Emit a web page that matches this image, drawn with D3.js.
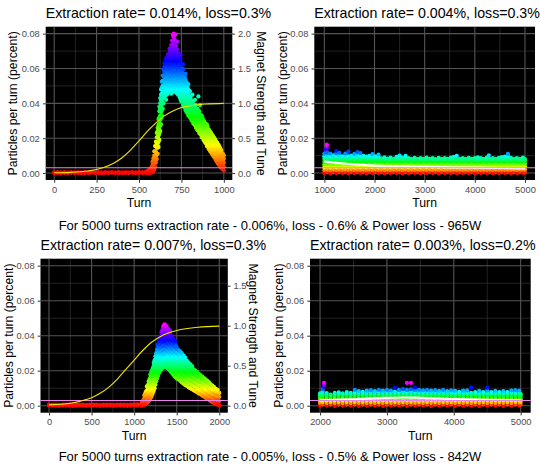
<!DOCTYPE html>
<html>
<head>
<meta charset="utf-8">
<script src="https://cdn.jsdelivr.net/npm/d3@7"></script>
<style>
  body { margin: 0; background: #fff; }
  text { font-family: "Liberation Sans", Arial, Helvetica, sans-serif; }
</style>
</head>
<body>
<div id="main"></div>
<script>
// ---- chart values -------------------------------------------------------

const titles = [
    'Extraction rate= 0.014%, loss=0.3%',
    'Extraction rate= 0.004%, loss=0.3%',
    'Extraction rate= 0.007%, loss=0.3%',
    'Extraction rate= 0.003%, loss=0.2%'
];
const captions = [
    'For 5000 turns extraction rate - 0.006%, loss - 0.6% & Power loss - 965W',
    'For 5000 turns extraction rate - 0.005%, loss - 0.5% & Power loss - 842W'
];

// loss limit drawn as the pink line (percent)
const lossLimit = 0.003;

const yTicks = [0, 0.02, 0.04, 0.06, 0.08];
const xTicksA = [0, 250, 500, 750, 1000];
const xTicksB = [1000, 2000, 3000, 4000, 5000];
const xTicksC = [0, 500, 1000, 1500, 2000];
const xTicksD = [2000, 3000, 4000, 5000];
const tuneTicksA = [0, 0.5, 1, 1.5, 2];
const tuneTicksC = [0, 0.5, 1, 1.5];

// magnet strength ramp (yellow line): [turn, strength]
const tuneA = [[0,0.003],[100,0.01],[200,0.03],[250,0.05],[300,0.085],[350,0.14],[400,0.22],[450,0.33],[500,0.46],
    [550,0.6],[600,0.72],[650,0.82],[700,0.89],[750,0.94],[800,0.965],[850,0.98],[900,0.99],[1000,1.0]];
const tuneC = [[0,0.01],[250,0.03],[400,0.065],[500,0.1],[600,0.155],[700,0.23],[800,0.33],[900,0.45],[1000,0.57],
    [1100,0.69],[1200,0.79],[1300,0.86],[1400,0.91],[1500,0.94],[1750,0.98],[2000,0.995]];

// smoothed particles per turn (white line): [turn, value x 1000]
const smoothB = [[1000,6.5],[1250,5.8],[1500,5.2],[1750,4.7],[2000,4.3],[2500,3.8],[3000,3.5],[3500,3.3],[4000,3.1],[4500,2.9],[5000,2.7]];
const smoothD = [[2000,3.0],[2500,3.6],[3000,4.5],[3250,4.7],[3500,4.5],[4000,3.8],[4500,3.3],[5000,3.1]];

// particles per turn, one row per turn: [turn, values...], values x 1000 (percent)
const lossA = [
    [0,0,0.4],[20,0,0.5],[40,-0.1,0.4],[60,0,0.5],[80,0,0.4],[100,0.1,0.5],[120,0,0.4],[140,0,0.5],[160,-0.1,0.4],
    [180,0,0.5],[200,0,0.4],[220,0.1,0.5],[240,0,0.4],[260,0,0.5],[280,-0.1,0.4],[300,0,0.5],[320,0,0.4],[340,0.1,0.5],
    [360,0,0.4],[380,0,0.5],[400,-0.1,0.4],[420,0,0.5],[440,0,0.4],[460,0.1,0.5],[480,0,0.4],[500,0,0.6],[520,0,0.5],
    [540,0,0.7],[550,0,0.6,1.3],[560,0,0.8,1.8],[570,0.2,1.3,2.6],[575,0.5,2,3.6],[580,0.5,2.6,4.8,6.5],
    [585,1.2,3.6,6,8.4],[590,2,4.8,7.4,10,12.5],[595,3.5,6.5,9.5,12.5,15.5],
    [600,6,9.5,12,15.5,18],[605,8,11,14.5,17,20.5,23],[610,11,14.5,17,20.5,24,26],[615,15,18,21.5,24,27.5,31],
    [620,19,22.5,25,28.5,32,35.5,38],[625,24,27,30.5,33,36.5,40,43],[630,28,31.5,35,38,41.5,45,48],
    [635,33,36,39.5,42,45.5,49,52.5],[640,37,40.5,43,46.5,50,53,56],[645,40,43.5,46,49.5,52.5,56,59.5],
    [650,43,46,49,52,55,58,61,63],[655,44.5,47.5,50.5,53.5,56.5,59.5,62.5,64.5],[660,46,49,52,55,58,61,64,66],
    [665,45,48,51,54,57,60,63,66],[670,47.5,50.5,53.5,56.5,59.5,62.5,65.5,68],[675,46.5,49.5,52.5,55.5,58.5,61.5,64.5,67.5],
    [680,48,51,54,57,60,63,66,69,71.5],[685,47,50,53,56,59,62,65,68,70.5],[690,49,52,55,58,61,64,67,70,73.5],
    [695,47.5,50.5,53.5,56.5,59.5,62.5,65.5,68.5,71.5,76],[700,50,53,56,59,62,65,68,71,74,79],
    [705,48.5,51.5,54.5,57.5,60.5,63.5,66.5,69.5,72.5,78,80],[710,47,50,53,56,59,62,65,68,71,74,76.5],
    [715,49.5,52.5,55.5,58.5,61.5,64.5,67.5,70.5,73.5,79.5],[720,46,49,52,55,58,61,64,67,70,73],
    [725,47.5,50.5,53.5,56.5,59.5,62.5,65.5,68.5,71,75.5],[730,45,48,51,54,57,60,63,66,69],
    [735,46.5,49.5,52.5,55.5,58.5,61.5,64.5,67.5],[740,43.5,46.5,49.5,52.5,55.5,58.5,61.5,64.5,66.5],
    [745,42,45,48,51,54,57,60,63,65.5],[750,41,44,47,50,53,56,59,62],[755,42.5,45.5,48.5,51.5,54.5,57.5,60],
    [760,39,42,45,48,51,54,57,59.5],[765,38,41,44,47,50,53,56],[770,37.5,40.5,43.5,46.5,49.5,52.5,55],
    [775,36,39,42,45,48,51,53.5],[780,35,38,41,44,47,50,52],[785,34.5,37.5,40.5,43.5,46.5,49.5],[790,33,36,39,42,45,48],
    [795,33.5,35.7,37.9,40.1,42.3,44.5],[800,32,34.2,36.4,38.6,40.8,43],[805,31.5,33.7,35.9,38.1,40.3,42.5,44.5],
    [810,30,32.2,34.4,36.6,38.8,41],[815,30.5,32.7,34.9,37.1,39.3,41],[820,28.5,30.7,32.9,35.1,37.3,39.5,41.5],
    [825,28,30.2,32.4,34.6,36.8,39],[830,27.5,29.7,31.9,34.1,36.3,38.5],[835,26,28.2,30.4,32.6,34.8,37,39],
    [840,26,28.2,30.4,32.6,34.8,37],[845,24.5,26.7,28.9,31.1,33.3,35.5,37],[850,24.5,26.7,28.9,31.1,33.3,35.5],
    [855,23,25.2,27.4,29.6,31.8,34,35.5],[860,22.5,24.7,26.9,29.1,31.3,33.5],[865,22,24.2,26.4,28.6,30.8,33],
    [870,20.5,22.7,24.9,27.1,29.3,31.5,33],[875,20.5,22.7,24.9,27.1,29.3,31.5],[880,19,21.2,23.4,25.6,27.8,30],
    [885,18.5,20.7,22.9,25.1,27.3,29.5],[890,17.5,19.7,21.9,24.1,26.3,28.5],[895,17,19.2,21.4,23.6,25.8,28],
    [900,15.5,17.7,19.9,22.1,24.3,26.5,28],[905,15.5,17.7,19.9,22.1,24.3,26.5],[910,14,16.2,18.4,20.6,22.8,25],
    [915,13.5,15.7,17.9,20.1,22.3,24.5],[920,12.5,14.7,16.9,19.1,21.3,23.5],[925,12,14.2,16.4,18.6,20.8,23],
    [930,11,13.2,15.4,17.6,19.8,22],[935,10.5,12.7,14.9,17.1,19.3,21.5],[940,9.5,11.7,13.9,16.1,18.3,20.5],
    [945,9,11.2,13.4,15.6,17.8,20],[950,8,10.2,12.4,14.6,16.8,19],[955,7,9.2,11.4,13.6,15.8,18],
    [960,6.5,8.7,10.9,13.1,15.3,17.5],[965,5.5,7.7,9.9,12.1,14.3,16.5],[970,5,7.2,9.4,11.6,13.8,16],
    [975,4,6.2,8.4,10.6,12.8,15],[980,3.5,5.7,7.9,10.1,12.3,14],[985,3,5.2,7.4,9.6,11.8,13],
    [990,2.5,4.7,6.9,9.1,11.3],[995,2,4.2,6.4,8.6,10.8],[1000,1.5,3.7,5.9,8.1,10],
    // scattered points round the peak
    [745,68],[760,62.5],[775,57],[790,51],[800,47],[815,45],[830,42],[850,44],[860,39],[700,46.5],[690,45.5],[660,42]
];

const lossB = [
    [1000,0,1.6,3.2,4.8,6.4,8,9.6,11],[1030,11.5,13.5],[1050,14,15.5,16.3],[1060,0.5,2.1,3.7,5.3,6.9,8.5,10.1,11.7],
    [1120,-0.3,1.6,3.2,4.8,6.4,8,9.6,11.2],[1180,0.5,2.1,3.7,5.3,6.9,8.5,10.1],[1240,0,1.6,3.2,4.8,6.4,8,9.6,11.4,12.8],
    [1300,0.5,2.1,3.7,5.3,6.9,8.5,10.1,11.6],[1360,0,1.6,3.2,4.8,6.4,8,9.6],[1420,0.5,2.1,3.7,5.3,6.9,8.5,10,11.2],
    [1480,-0.2,1.6,3.2,4.8,6.4,8,9.6,12.3],[1540,0.5,2.1,3.7,5.3,6.9,8.5,10],[1600,0,1.6,3.2,4.8,6.4,8,9.5,11],
    [1660,0.5,2.1,3.7,5.3,6.9,8.5,10.1,12],[1720,0,1.6,3.2,4.8,6.4,8,9.6,11.5],[1780,0.5,2.1,3.7,5.3,6.9,8.5,9.8],
    [1840,-0.3,1.6,3.2,4.8,6.4,8,9.4],[1900,0.5,2.1,3.7,5.3,6.9,8.5,9.8],[1960,0,1.6,3.2,4.8,6.4,8,9.3,10.8],
    [2020,0.5,2.1,3.7,5.3,6.9,8.5,9.6],[2080,0,1.6,3.2,4.8,6.4,8,9.5,10.6],[2140,0.5,2.1,3.7,5.3,6.9,8.4],
    [2200,-0.2,1.6,3.2,4.8,6.4,7.9,9],[2260,0.5,2.1,3.7,5.3,6.9,8.3],[2320,0,1.6,3.2,4.8,6.4,7.8,8.9],
    [2380,0.5,2.1,3.7,5.3,6.9,8.2],[2440,0,1.6,3.2,4.8,6.4,7.8,9.3],[2500,0.5,2.1,3.7,5.3,6.9,8.3,10],
    [2560,-0.3,1.6,3.2,4.8,6.4,7.8,8.8],[2620,0.5,2.1,3.7,5.3,6.9,8.2,9.8],[2680,0,1.6,3.2,4.8,6.4,7.7,8.6],
    [2740,0.5,2.1,3.7,5.3,6.9,8.1],[2800,0,1.6,3.2,4.8,6.4,7.8,8.7],[2860,0.5,2.1,3.7,5.3,6.9,8.2],
    [2920,-0.2,1.6,3.2,4.8,6.4,7.7,8.5],[2980,0.5,2.1,3.7,5.3,6.9,8.1],[3040,0,1.6,3.2,4.8,6.4,7.8,8.8],
    [3100,0.5,2.1,3.7,5.3,6.9,8.2],[3160,0,1.6,3.2,4.8,6.4,7.7,8.6],[3220,0.5,2.1,3.7,5.3,6.9,8],
    [3280,-0.3,1.6,3.2,4.8,6.4,7.8,8.7],[3340,0.5,2.1,3.7,5.3,6.9,8.1],[3400,0,1.6,3.2,4.8,6.4,7.7,8.6],
    [3460,0.5,2.1,3.7,5.3,6.9,8.2],[3520,0,1.6,3.2,4.8,6.4,7.8,8.8],[3580,0.5,2.1,3.7,5.3,6.9,8.1,9.3],
    [3640,-0.2,1.6,3.2,4.8,6.4,7.8,9.8],[3700,0.5,2.1,3.7,5.3,6.9,8.2],[3760,0,1.6,3.2,4.8,6.4,7.7,8.6],
    [3820,0.5,2.1,3.7,5.3,6.9,8.1],[3880,0,1.6,3.2,4.8,6.4,7.8,8.7],[3940,0.5,2.1,3.7,5.3,6.9,8.2],
    [4000,-0.3,1.6,3.2,4.8,6.4,7.7,8.5],[4060,0.5,2.1,3.7,5.3,6.9,8.1,9],[4120,0,1.6,3.2,4.8,6.4,7.8,8.6],
    [4180,0.5,2.1,3.7,5.3,6.9,8.2],[4240,0,1.6,3.2,4.8,6.4,7.8,8.8],[4280,10.2],[4300,0.5,2.1,3.7,5.3,6.9,8.1],
    [4360,-0.2,1.6,3.2,4.8,6.4,7.7,8.6],[4420,0.5,2.1,3.7,5.3,6.9,8.2],[4480,0,1.6,3.2,4.8,6.4,7.8,8.7],
    [4540,0.5,2.1,3.7,5.3,6.9,8.1,9.2],[4600,0,1.6,3.2,4.8,6.4,7.8,9.5],[4660,0.5,2.1,3.7,5.3,6.9,8.3,9.8,11],
    [4720,-0.3,1.6,3.2,4.8,6.4,7.8,8.7],[4780,0.5,2.1,3.7,5.3,6.9,8.2],[4840,0,1.6,3.2,4.8,6.4,7.8,8.6],
    [4900,0.5,2.1,3.7,5.3,6.9,8.1],[4960,0,1.6,3.2,4.8,6.4,7.8,8.8],[5000,0.5,2.1,3.7,5.3,6.9,8]
];

const lossC = [
    [0,0,0.6],[40,0.1,0.7],[80,0,0.6],[120,-0.1,0.5],[160,0,0.6],[200,0.1,0.7],[240,0,0.6],[280,-0.1,0.5],[320,0,0.6],
    [360,0.1,0.7],[400,0,0.6],[440,-0.1,0.5],[480,0,0.6],[520,0.1,0.7],[560,0,0.6],[600,-0.1,0.5],[640,0,0.6],
    [680,0.1,0.7],[720,0,0.6],[760,-0.1,0.5],[800,0,0.6],[840,0.1,0.7],[880,0,0.6],[920,-0.1,0.5],[960,0,0.7],
    [1000,0.1,0.8],[1040,0,0.8],[1080,0,0.9],[1090,0,0.8,1.8],[1100,0.2,1.2,2.5],[1110,0.4,1.8,3.4],
    [1120,0.6,2.4,4.4,6],[1130,1,3,5,7],[1140,1.2,3.5,5.8,8.2],[1150,1.5,3.9,6.3,8.7,11],[1160,2,4.4,6.8,9.2,11.6],
    [1170,2.6,5,7.4,9.8,12.2,13.8],[1180,3.2,5.6,8,10.4,12.8,15],[1190,4,6.4,8.8,11.2,13.6,16,17.8],
    [1200,4.8,7.2,9.6,12,14.4,16.8,19.2],[1210,6,8.4,10.8,13.2,15.6,18,20.4],[1220,7.2,9.6,12,14.4,16.8,19.2,21.6],
    [1230,8.5,10.9,13.3,15.7,18.1,20.5,22.9,24.5],[1240,10,12.4,14.8,17.2,19.6,22,24.4,26],
    [1250,12,14.4,16.8,19.2,21.6,24,26.4,28.2],[1260,14,16.4,18.8,21.2,23.6,26,28.4,30],
    [1270,15.5,17.9,20.3,22.7,25.1,27.5,29.9,32],[1280,17,19.4,21.8,24.2,26.6,29,31.4,33.8,35],
    [1290,18.5,20.9,23.3,25.7,28.1,30.5,32.9,35.3,37],[1300,19.5,21.9,24.3,26.7,29.1,31.5,33.9,36.3,38.5],
    [1310,20.5,22.9,25.3,27.7,30.1,32.5,34.9,37.3,39.5],[1320,21,23.4,25.8,28.2,30.6,33,35.4,37.8,40.2,42],
    [1330,21.5,23.9,26.3,28.7,31.1,33.5,35.9,38.3,40.7,43],[1340,22,24.4,26.8,29.2,31.6,34,36.4,38.8,41.2,43.6,45],
    [1350,22.5,24.9,27.3,29.7,32.1,34.5,36.9,39.3,41.7,44.1,46],[1360,22,24.4,26.8,29.2,31.6,34,36.4,38.8,41.2,43.6,46.5],
    [1370,22.8,25.2,27.6,30,32.4,34.8,37.2,39.6,42,44.4],[1380,22.3,24.7,27.1,29.5,31.9,34.3,36.7,39.1,41.5,43.9,45.5],
    [1390,21.6,24,26.4,28.8,31.2,33.6,36,38.4,40.8,42.8],[1400,21.2,23.6,26,28.4,30.8,33.2,35.6,38,40.4,42.8,44],
    [1410,20.6,23,25.4,27.8,30.2,32.6,35,37.4,39.8,41.8],[1420,20.2,22.6,25,27.4,29.8,32.2,34.6,37,39.4,41.8,43],
    [1430,19.4,21.8,24.2,26.6,29,31.4,33.8,36.2,38.6,40.2],[1440,19,21.4,23.8,26.2,28.6,31,33.4,35.8,38.2,39.5],
    [1450,18.2,20.6,23,25.4,27.8,30.2,32.6,35,37.4,39],[1460,17.8,20.2,22.6,25,27.4,29.8,32.2,34.6,37,38],
    [1470,17.2,19.6,22,24.4,26.8,29.2,31.6,34,36],[1480,16.6,19,21.4,23.8,26.2,28.6,31,33.4,35.8,37],
    [1490,16.2,18.6,21,23.4,25.8,28.2,30.6,33,34.5],[1500,15.6,18,20.4,22.8,25.2,27.6,30,32.4,33.5],
    [1520,15,17.4,19.8,22.2,24.6,27,29.4,31.8],[1540,14.2,16.6,19,21.4,23.8,26.2,28.6,31],
    [1560,13.3,15.7,18.1,20.5,22.9,25.3,27.7,30],[1580,12.5,14.9,17.3,19.7,22.1,24.5,26.9,28.6],
    [1600,11.8,14.2,16.6,19,21.4,23.8,26.2,27.5],[1620,11.3,13.7,16.1,18.5,20.9,23.3,25.7],
    [1640,10.5,12.9,15.3,17.7,20.1,22.5,24.6],[1660,10,12.4,14.8,17.2,19.6,22,23.6],[1680,9.4,11.8,14.2,16.6,19,21.4,22.6],
    [1700,8.8,11.2,13.6,16,18.4,20.8],[1720,8.3,10.7,13.1,15.5,17.9,20.1],[1740,7.6,10,12.4,14.8,17.2,19.2],
    [1760,7,9.4,11.8,14.2,16.6,18.2],[1780,6.5,8.9,11.3,13.7,16.1,17.5],[1800,5.8,8.2,10.6,13,15.4,16.6],
    [1820,5.2,7.6,10,12.4,14.8,15.8],[1840,4.5,6.9,9.3,11.7,14.1,15],[1860,3.9,6.3,8.7,11.1,13.5,14.2],
    [1880,3.2,5.6,8,10.4,12.8,13.4],[1900,2.6,5,7.4,9.8,12.2],[1920,2,4.4,6.8,9.2,11.5],[1940,1.5,3.9,6.3,8.7,10.6],
    [1960,1,3.4,5.8,8.2,9.7],[1980,0.6,3,5.4,7.8,9],[2000,0.3,2.7,5.1,7.3]
];

const lossD = [
    [2000,0,1.5,3,4.5,6,7],[2040,0.6,2.1,3.6,5.1,6.6,8,9.5],[2060,10.8,11.8,13.1],[2100,0,1.5,3,4.5,6,7.2],
    [2160,0.6,2.1,3.6,5.1,6.4],[2220,-0.2,1.5,3,4.5,6,7.3],[2280,0.6,2.1,3.6,5.1,6.6,7.6],[2340,0,1.5,3,4.5,6,7],
    [2400,0.6,2.1,3.6,5.1,6.6,7.8],[2460,0,1.5,3,4.5,6,7.3],[2520,0.6,2.1,3.6,5.1,6.6,7.8,9],[2580,-0.2,1.5,3,4.5,6,7.4,8.4],
    [2640,0.6,2.1,3.6,5.1,6.6,7.9],[2700,0,1.5,3,4.5,6,7.5,8.6],[2760,0.6,2.1,3.6,5.1,6.6,8,8.9],[2820,0,1.5,3,4.5,6,7.5,8.4],
    [2880,0.6,2.1,3.6,5.1,6.6,8,9.1],[2940,-0.2,1.5,3,4.5,6,7.5,8.6],[3000,0.6,2.1,3.6,5.1,6.6,8,9],[3060,0,1.5,3,4.5,6,7.5,8.7],
    [3120,0.6,2.1,3.6,5.1,6.6,8,10.4],[3180,0,1.5,3,4.5,6,7.5,9],[3240,0.6,2.1,3.6,5.1,6.6,8,9.6],
    [3300,-0.2,1.5,3,4.5,6,7.5,9,13],[3360,0.6,2.1,3.6,5.1,6.6,8,9.4,13],[3420,0,1.5,3,4.5,6,7.5,9,10.4],
    [3480,0.6,2.1,3.6,5.1,6.6,8,9],[3540,0,1.5,3,4.5,6,7.5,8.8],[3600,0.6,2.1,3.6,5.1,6.6,8,9.1],[3660,-0.2,1.5,3,4.5,6,7.5,8.6],
    [3720,0.6,2.1,3.6,5.1,6.6,8,8.9],[3780,0,1.5,3,4.5,6,7.5,8.5],[3840,0.6,2.1,3.6,5.1,6.6,8,9],[3900,0,1.5,3,4.5,6,7.5,8.4],
    [3960,0.6,2.1,3.6,5.1,6.6,7.9,8.8],[4020,-0.2,1.5,3,4.5,6,7.4,8.5],[4080,0.6,2.1,3.6,5.1,6.6,7.9],[4140,0,1.5,3,4.5,6,7.4,8.6],
    [4200,0.6,2.1,3.6,5.1,6.6,7.9,8.8],[4260,0,1.5,3,4.5,6,7.4,10.3],[4320,0.6,2.1,3.6,5.1,6.6,7.8],[4380,-0.2,1.5,3,4.5,6,7.3,8.5],
    [4440,0.6,2.1,3.6,5.1,6.6,7.8],[4500,0,1.5,3,4.5,6,7.3,8.7,10.3],[4560,0.6,2.1,3.6,5.1,6.6,7.8],[4620,0,1.5,3,4.5,6,7.3,8.5],
    [4680,0.6,2.1,3.6,5.1,6.6,7.8],[4740,-0.2,1.5,3,4.5,6,7.3,8.4],[4800,0.6,2.1,3.6,5.1,6.6,7.8],[4860,0,1.5,3,4.5,6,7.4,8.8],
    [4920,0.6,2.1,3.6,5.1,6.6,7.9,8.9],[4980,0,1.5,3,4.5,6,7.4,8.7],[5000,0.6,2.1,3.6,5.1,6.6]
];

// ---- layout -------------------------------------------------------------

const width = 540, height = 464;

const panels = [
    { title: titles[0], loss: lossA, xTicks: xTicksA, tune: tuneA, tuneMax: 2, tuneTicks: tuneTicksA,
      left: 45.7, right: 232.3, top: 26.7, bottom: 180, yTitleX: 12.3, rTitleX: 261.7 },
    { title: titles[1], loss: lossB, xTicks: xTicksB, smooth: smoothB,
      left: 314.3, right: 535, top: 26.7, bottom: 180, yTitleX: 282.3 },
    { title: titles[2], loss: lossC, xTicks: xTicksC, tune: tuneC, tuneMax: 1.75, tuneTicks: tuneTicksC,
      left: 40.5, right: 227.8, top: 258.7, bottom: 412.7, yTitleX: 8.3, rTitleX: 253.3 },
    { title: titles[3], loss: lossD, xTicks: xTicksD, smooth: smoothD,
      left: 310, right: 530.7, top: 258.7, bottom: 412.7, yTitleX: 278.3 }
];

let svg = d3.select('#main')
    .append('svg')
        .attr('width', width)
        .attr('height', height);

svg.append('rect').attr('width', width).attr('height', height).attr('fill', '#fff');

function styleAxis(sel) {
    sel.select('.domain').remove();
    sel.selectAll('.tick line').attr('stroke', '#333').attr('stroke-width', 1);
    sel.selectAll('.tick text')
        .attr('fill', '#4d4d4d')
        .style('font-size', '9.3px')
        .style('font-family', '"Liberation Sans", Arial, sans-serif');
}

function drawPanel(p) {
    const g = svg.append('g');
    const t0 = p.xTicks[0], t1 = p.xTicks[p.xTicks.length - 1];
    const pad = (t1 - t0) * 0.05;
    const x = d3.scaleLinear().domain([t0 - pad, t1 + pad]).range([p.left, p.right]);
    const y = d3.scaleLinear().domain([-0.004, 0.084]).range([p.bottom, p.top]);

    // panel background
    g.append('rect')
        .attr('x', p.left).attr('y', p.top)
        .attr('width', p.right - p.left).attr('height', p.bottom - p.top)
        .attr('fill', '#000');

    // grid lines, minor then major
    const xMinor = d3.pairs(p.xTicks).map(([a, b]) => (a + b) / 2);
    const yMinor = d3.pairs(yTicks).map(([a, b]) => (a + b) / 2);
    g.selectAll('.vminor').data(xMinor).enter().append('line')
        .attr('x1', d => x(d)).attr('x2', d => x(d)).attr('y1', p.top).attr('y2', p.bottom)
        .attr('stroke', '#3a3a3a').attr('stroke-width', 0.6);
    g.selectAll('.hminor').data(yMinor).enter().append('line')
        .attr('y1', d => y(d)).attr('y2', d => y(d)).attr('x1', p.left).attr('x2', p.right)
        .attr('stroke', '#3a3a3a').attr('stroke-width', 0.6);
    g.selectAll('.vmajor').data(p.xTicks).enter().append('line')
        .attr('x1', d => x(d)).attr('x2', d => x(d)).attr('y1', p.top).attr('y2', p.bottom)
        .attr('stroke', '#555').attr('stroke-width', 1.1);
    g.selectAll('.hmajor').data(yTicks).enter().append('line')
        .attr('y1', d => y(d)).attr('y2', d => y(d)).attr('x1', p.left).attr('x2', p.right)
        .attr('stroke', '#555').attr('stroke-width', 1.1);

    // points, coloured by value through a rainbow (red -> magenta)
    const pts = p.loss.flatMap(([t, ...vals]) => vals.map(v => ({ t: t, v: v / 1000 })));
    const hue = d3.scaleLinear().domain([0, d3.max(pts, d => d.v)]).range([0, 300]).clamp(true);
    g.selectAll('.pt').data(pts).enter().append('circle')
        .attr('cx', d => x(d.t))
        .attr('cy', d => y(d.v))
        .attr('r', 2.1)
        .attr('fill', d => d3.hsl(hue(d.v), 1, 0.5).toString());

    if (p.smooth) {
        const line = d3.line().x(d => x(d[0])).y(d => y(d[1] / 1000)).curve(d3.curveMonotoneX);
        g.append('path').datum(p.smooth).attr('d', line)
            .attr('fill', 'none').attr('stroke', '#fff').attr('stroke-width', 2.2);
    }

    // loss limit
    g.append('line')
        .attr('x1', p.left).attr('x2', p.right)
        .attr('y1', y(lossLimit)).attr('y2', y(lossLimit))
        .attr('stroke', '#ee82ee').attr('stroke-width', 1.1);

    if (p.tune) {
        const tuneY = d3.scaleLinear().domain([0, p.tuneMax]).range([y(0), y(0.08)]);
        const line = d3.line().x(d => x(d[0])).y(d => tuneY(d[1])).curve(d3.curveMonotoneX);
        g.append('path').datum(p.tune).attr('d', line)
            .attr('fill', 'none').attr('stroke', '#f2e600').attr('stroke-width', 1.1);

        const ra = g.append('g').attr('transform', `translate(${p.right},0)`)
            .call(d3.axisRight(tuneY).tickValues(p.tuneTicks).tickFormat(d3.format('.1f')).tickSize(2.75).tickPadding(3));
        styleAxis(ra);

        g.append('text')
            .attr('transform', `translate(${p.rTitleX},${(p.top + p.bottom) / 2}) rotate(90)`)
            .attr('text-anchor', 'middle').attr('dy', '0.35em')
            .style('font-size', '12.2px').attr('fill', '#000')
            .text('Magnet Strength and Tune');
    }

    // axes
    const xa = g.append('g').attr('transform', `translate(0,${p.bottom})`)
        .call(d3.axisBottom(x).tickValues(p.xTicks).tickFormat(d3.format('d')).tickSize(2.75).tickPadding(3.2));
    styleAxis(xa);
    const ya = g.append('g').attr('transform', `translate(${p.left},0)`)
        .call(d3.axisLeft(y).tickValues(yTicks).tickFormat(d3.format('.2f')).tickSize(2.75).tickPadding(3.2));
    styleAxis(ya);

    g.append('text')
        .attr('x', (p.left + p.right) / 2).attr('y', p.bottom + 27)
        .attr('text-anchor', 'middle')
        .style('font-size', '12.2px').attr('fill', '#000')
        .text('Turn');

    g.append('text')
        .attr('transform', `translate(${p.yTitleX},${(p.top + p.bottom) / 2}) rotate(-90)`)
        .attr('text-anchor', 'middle').attr('dy', '0.35em')
        .style('font-size', '12.2px').attr('fill', '#000')
        .text('Particles per turn (percent)');

    g.append('text')
        .attr('x', p.left).attr('y', p.top - 9)
        .style('font-size', '14.2px').attr('fill', '#000')
        .text(p.title);
}

panels.forEach(drawPanel);

// captions under each row
svg.selectAll('.caption').data(captions).enter().append('text')
    .attr('x', width / 2)
    .attr('y', (d, i) => i === 0 ? 230 : 461)
    .attr('text-anchor', 'middle')
    .style('font-size', '13px').attr('fill', '#000')
    .text(d => d);
</script>
</body>
</html>
